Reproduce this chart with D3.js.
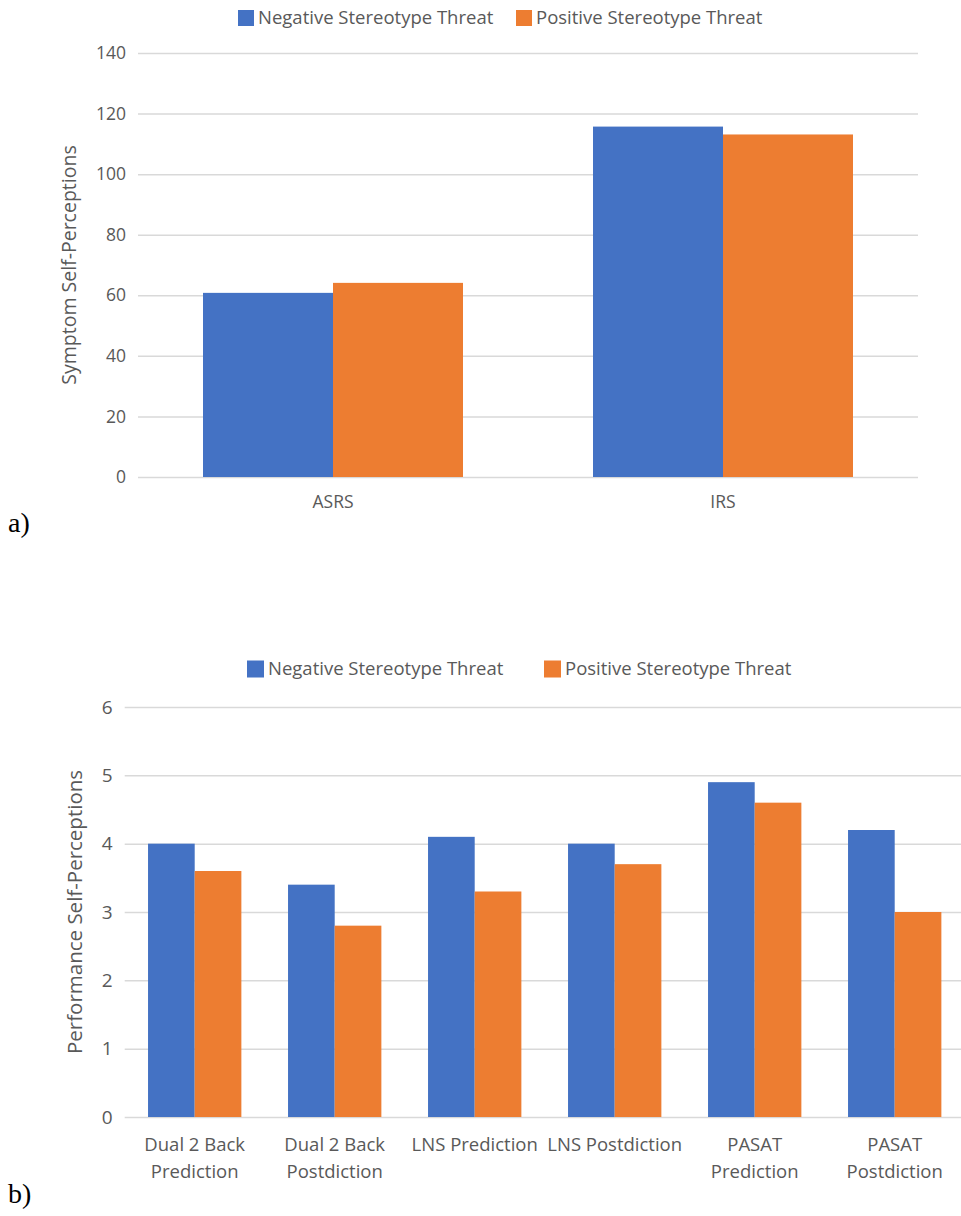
<!DOCTYPE html>
<meta charset="utf-8">
<html>
  <head>
    <title>stereotype threat self-perceptions</title>
    <style>
      body { margin: 0; background: #fff; }
      svg { display: block; }
      .grid line { stroke: #d9d9d9; stroke-width: 1.5px; }
      .grid text, .xlab, .legend text, .ytitle { fill: #595959; font-family: "Open Sans", sans-serif; }
      .panel-tag { font-family: "Liberation Serif", "Times New Roman", serif; fill: #000; }
    </style>
  </head>
  <body>
    <script src="https://cdn.jsdelivr.net/npm/d3@7"></script>
    <script>

      // series names and colours
      var seriesNames = ["Negative Stereotype Threat", "Positive Stereotype Threat"];
      var seriesColors = ["#4472c4", "#ed7d31"];

      // panel a) symptom self-perceptions
      var symptomCategories = ["ASRS", "IRS"];
      var symptomNegative = [60.8, 115.7];
      var symptomPositive = [64.1, 113.1];
      var symptomTicks = [0, 20, 40, 60, 80, 100, 120, 140];

      // panel b) performance self-perceptions
      var perfCategories = [
        ["Dual 2 Back", "Prediction"],
        ["Dual 2 Back", "Postdiction"],
        ["LNS Prediction"],
        ["LNS Postdiction"],
        ["PASAT", "Prediction"],
        ["PASAT", "Postdiction"]
      ];
      var perfNegative = [4.0, 3.4, 4.1, 4.0, 4.9, 4.2];
      var perfPositive = [3.6, 2.8, 3.3, 3.7, 4.6, 3.0];
      var perfTicks = [0, 1, 2, 3, 4, 5, 6];

      var svg = d3.select("body").append("svg")
          .attr("width", 961)
          .attr("height", 1216);

      function drawPanel(p) {
        var g = svg.append("g");
        var n = p.labels.length;
        var idx = d3.range(n);

        var x = d3.scaleBand().domain(idx).range([p.left, p.right])
            .paddingInner(1 / 3).paddingOuter(1 / 6);
        var xs = d3.scaleBand().domain([0, 1]).range([0, x.bandwidth()]);
        var y = d3.scaleLinear().domain([0, d3.max(p.ticks)]).range([p.bottom, p.top]);

        // gridlines + tick labels
        var yAxis = g.append("g")
            .attr("class", "grid")
            .attr("transform", "translate(" + p.left + ",0)")
            .call(d3.axisLeft(y).tickValues(p.ticks).tickFormat(d3.format("d"))
              .tickSize(-(p.right - p.left)).tickPadding(p.tickPad));
        yAxis.select(".domain").remove();
        yAxis.selectAll("text").style("font-size", p.tickFont + "px");

        // bars
        var rows = idx.map(function(i) { return [p.neg[i], p.pos[i]]; });
        g.selectAll(".group")
          .data(rows)
          .enter().append("g")
            .attr("transform", function(d, i) { return "translate(" + x(i) + ",0)"; })
          .selectAll("rect")
          .data(function(d) { return d; })
          .enter().append("rect")
            .attr("x", function(d, j) { return xs(j); })
            .attr("width", xs.bandwidth())
            .attr("y", function(d) { return y(d); })
            .attr("height", function(d) { return y(0) - y(d); })
            .attr("fill", function(d, j) { return seriesColors[j]; });

        // category labels
        var lab = g.selectAll(".xlab")
          .data(p.labels)
          .enter().append("text")
            .attr("class", "xlab")
            .attr("text-anchor", "middle")
            .style("font-size", p.labelFont + "px")
            .attr("x", function(d, i) { return x(i) + x.bandwidth() / 2; })
            .attr("y", p.labelY);
        lab.selectAll("tspan")
          .data(function(d) { return d; })
          .enter().append("tspan")
            .attr("x", function() { return d3.select(this.parentNode).attr("x"); })
            .attr("dy", function(d, k) { return k ? p.lineH : 0; })
            .text(function(d) { return d; });

        // y axis title
        g.append("text")
            .attr("class", "ytitle")
            .attr("text-anchor", "middle")
            .style("font-size", p.titleFont + "px")
            .attr("transform", "translate(" + p.titleX + "," + ((p.top + p.bottom) / 2) + ") rotate(-90)")
            .text(p.title);

        // legend
        var leg = g.append("g").attr("class", "legend");
        seriesNames.forEach(function(name, j) {
          leg.append("rect")
              .attr("x", p.legendX[j])
              .attr("y", p.legendY - p.sq / 2)
              .attr("width", p.sq)
              .attr("height", p.sq)
              .attr("fill", seriesColors[j]);
          leg.append("text")
              .attr("x", p.legendX[j] + p.sq + 4)
              .attr("y", p.legendY)
              .attr("dy", "0.35em")
              .style("font-size", p.legendFont + "px")
              .text(name);
        });

        // panel tag
        g.append("text")
            .attr("class", "panel-tag")
            .attr("x", 8)
            .attr("y", p.tagY)
            .style("font-size", "28px")
            .text(p.tag);
      }

      drawPanel({
        labels: symptomCategories.map(function(c) { return [c]; }),
        neg: symptomNegative, pos: symptomPositive, ticks: symptomTicks,
        left: 138, right: 918, top: 53, bottom: 477,
        tickFont: 17.5, tickPad: 12, labelFont: 17.5, labelY: 508, lineH: 27,
        title: "Symptom Self-Perceptions", titleFont: 19.5, titleX: 76,
        legendX: [238, 516], legendY: 18, sq: 16, legendFont: 18.5,
        tag: "a)", tagY: 532
      });

      drawPanel({
        labels: perfCategories,
        neg: perfNegative, pos: perfPositive, ticks: perfTicks,
        left: 124.7, right: 964.7, top: 707, bottom: 1117,
        tickFont: 19, tickPad: 12, labelFont: 18.5, labelY: 1151, lineH: 27,
        title: "Performance Self-Perceptions", titleFont: 20.5, titleX: 82,
        legendX: [247, 544], legendY: 669, sq: 17, legendFont: 18.5,
        tag: "b)", tagY: 1203
      });

    </script>
  </body>
</html>
